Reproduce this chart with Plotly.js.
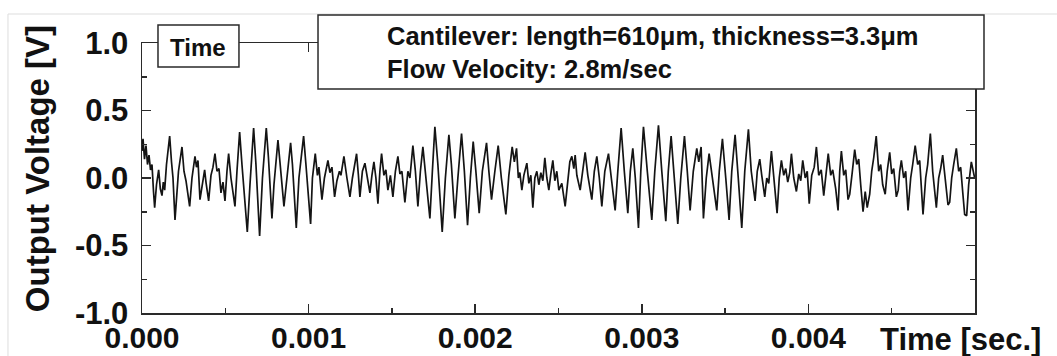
<!DOCTYPE html>
<html>
<head>
<meta charset="utf-8">
<script src="https://cdn.plot.ly/plotly-3.0.1.min.js"></script>
<style>
  html, body { margin: 0; padding: 0; background: #ffffff; }
  #chart { width: 1057px; height: 356px; }
</style>
</head>
<body>
<div id="chart"></div>
<script>
// Sample times in microseconds
const timeUs = [
  0, 6, 15, 24, 33, 42, 51, 60, 69, 76, 87, 100, 110, 120, 128, 136, 147, 166, 177, 186,
  198, 210, 219, 240, 252, 264, 286, 300, 318, 327, 336, 348, 363, 376, 384, 400, 414, 426, 438, 450,
  462, 474, 486, 498, 510, 520, 534, 558, 570, 586, 600, 612, 632, 648, 670, 684, 693, 706, 723, 746,
  759, 780, 792, 816, 828, 852, 870, 892, 903, 926, 942, 970, 984, 1012, 1023, 1040, 1053, 1062, 1080, 1095,
  1116, 1128, 1140, 1156, 1170, 1185, 1194, 1212, 1230, 1248, 1263, 1288, 1299, 1308, 1323, 1338, 1353, 1368, 1380, 1392,
  1404, 1416, 1428, 1438, 1452, 1464, 1476, 1491, 1506, 1521, 1536, 1548, 1560, 1578, 1596, 1608, 1626, 1641, 1656, 1671,
  1686, 1704, 1728, 1743, 1758, 1776, 1802, 1821, 1842, 1857, 1878, 1896, 1918, 1935, 1954, 1971, 1988, 2004, 2024, 2043,
  2068, 2082, 2098, 2118, 2138, 2157, 2184, 2202, 2222, 2235, 2248, 2259, 2268, 2280, 2292, 2310, 2322, 2334, 2346, 2358,
  2370, 2382, 2394, 2406, 2418, 2430, 2442, 2454, 2466, 2478, 2490, 2502, 2520, 2540, 2556, 2568, 2580, 2592, 2600, 2610,
  2630, 2643, 2660, 2676, 2700, 2715, 2730, 2745, 2760, 2778, 2800, 2817, 2840, 2856, 2876, 2895, 2916, 2931, 2946, 2961,
  2980, 2994, 3010, 3033, 3060, 3078, 3100, 3120, 3144, 3159, 3176, 3195, 3216, 3234, 3256, 3273, 3290, 3309, 3330, 3342,
  3356, 3370, 3387, 3404, 3423, 3450, 3465, 3484, 3504, 3524, 3540, 3560, 3579, 3600, 3618, 3640, 3657, 3680, 3693, 3708,
  3720, 3738, 3750, 3762, 3778, 3792, 3812, 3825, 3838, 3852, 3864, 3876, 3888, 3898, 3912, 3928, 3942, 3954, 3966, 3981,
  3993, 4005, 4020, 4035, 4048, 4062, 4077, 4092, 4104, 4119, 4134, 4146, 4164, 4178, 4188, 4198, 4212, 4224, 4238, 4248,
  4263, 4278, 4290, 4302, 4314, 4328, 4341, 4353, 4368, 4380, 4392, 4407, 4422, 4434, 4446, 4461, 4473, 4488, 4500, 4512,
  4528, 4539, 4548, 4558, 4572, 4584, 4598, 4614, 4626, 4641, 4656, 4668, 4688, 4704, 4716, 4732, 4746, 4768, 4782, 4794,
  4806, 4821, 4838, 4848, 4860, 4872, 4888, 4902, 4914, 4926, 4938, 4950, 4962, 4978, 4989, 4998
];

// Output voltage in volts
const voltage = [
  0.20, 0.29, 0.14, 0.24, 0.10, 0.17, 0.06, 0.10, -0.10, -0.22, -0.05, 0.06, -0.08, -0.13, -0.03, -0.09, 0.10, 0.31, 0.12, 0.00,
  -0.31, -0.05, 0.05, 0.23, 0.05, -0.02, -0.21, 0.00, 0.16, 0.08, 0.13, -0.16, -0.02, 0.06, -0.03, -0.17, 0.02, 0.08, 0.18, 0.05,
  0.07, -0.11, -0.03, -0.17, 0.05, 0.18, 0.00, -0.21, 0.05, 0.34, 0.10, -0.10, -0.40, -0.05, 0.37, 0.10, -0.10, -0.43, 0.00, 0.37,
  0.15, -0.30, -0.05, 0.28, 0.12, -0.21, 0.00, 0.26, 0.10, -0.37, 0.00, 0.31, 0.10, -0.34, 0.00, 0.18, 0.02, 0.08, -0.16, 0.00,
  0.13, 0.04, 0.08, -0.14, -0.02, 0.05, 0.02, 0.16, 0.00, -0.14, 0.00, 0.18, 0.02, -0.14, 0.05, 0.11, 0.00, -0.11, 0.02, 0.12,
  0.00, -0.19, 0.05, 0.18, 0.02, 0.06, -0.09, 0.02, -0.14, 0.05, 0.16, 0.03, 0.05, -0.18, 0.05, 0.00, 0.24, 0.05, -0.21, 0.05,
  0.23, 0.00, -0.30, 0.05, 0.38, 0.10, -0.40, 0.00, 0.32, 0.10, -0.30, 0.00, 0.33, 0.05, -0.35, 0.00, 0.27, 0.05, -0.26, 0.05,
  0.26, 0.05, -0.16, 0.05, 0.24, 0.00, -0.27, 0.02, 0.23, 0.12, 0.22, 0.00, 0.04, -0.09, 0.02, 0.11, -0.04, 0.02, -0.22, 0.00,
  0.05, -0.05, 0.04, -0.02, 0.15, 0.00, -0.09, 0.03, 0.13, -0.02, 0.05, -0.09, -0.04, -0.21, 0.00, 0.12, 0.16, 0.07, 0.17, 0.02,
  -0.09, 0.05, 0.19, 0.02, -0.16, 0.05, 0.16, 0.00, -0.21, 0.05, 0.18, 0.00, -0.24, 0.05, 0.37, 0.05, -0.26, 0.05, 0.22, 0.00,
  -0.37, 0.05, 0.38, 0.05, -0.31, 0.05, 0.39, 0.05, -0.32, 0.05, 0.31, 0.00, -0.34, 0.00, 0.31, 0.05, -0.24, 0.05, 0.22, 0.12,
  0.23, -0.30, 0.00, 0.18, 0.00, -0.24, 0.05, 0.29, 0.00, -0.31, 0.05, 0.32, 0.00, -0.37, 0.05, 0.36, 0.05, -0.17, 0.05, 0.14,
  0.02, -0.14, 0.00, -0.04, 0.20, 0.00, -0.26, 0.00, 0.13, 0.02, 0.07, -0.03, 0.04, 0.18, 0.00, -0.10, 0.03, -0.02, 0.13, 0.00,
  0.05, -0.19, 0.02, 0.08, 0.23, 0.02, 0.06, -0.13, 0.02, 0.18, 0.02, 0.06, -0.08, -0.24, 0.05, 0.20, 0.02, 0.06, -0.16, -0.12,
  0.04, 0.21, 0.10, 0.14, -0.05, -0.25, -0.10, -0.22, -0.12, 0.05, 0.15, 0.31, 0.05, 0.10, -0.05, -0.12, 0.05, 0.19, 0.03, 0.07,
  -0.14, -0.09, 0.05, 0.13, 0.00, 0.05, -0.24, 0.00, 0.10, 0.24, 0.10, 0.13, -0.27, 0.00, 0.10, 0.33, 0.05, -0.22, 0.00, 0.07,
  0.17, 0.00, -0.20, -0.18, 0.00, 0.10, 0.22, 0.05, 0.08, -0.10, -0.27, -0.28, -0.05, 0.12, 0.05, 0.00
];

const xTickVals = [0, 0.001, 0.002, 0.003, 0.004];
const xTickText = ['0.000', '0.001', '0.002', '0.003', '0.004'];
const yTickVals = [-1, -0.5, 0, 0.5, 1];
const yTickText = ['-1.0', '-0.5', '0.0', '0.5', '1.0'];

const FONT = 'Liberation Sans, Arial, Helvetica, sans-serif';
const AX = '#2a2a2a';

const trace = {
  type: 'scatter',
  mode: 'lines',
  x: timeUs.map(t => t * 1e-6),
  y: voltage,
  line: { color: '#141414', width: 1.7 },
  hoverinfo: 'skip'
};

const layout = {
  width: 1057,
  height: 356,
  margin: { l: 142, r: 82, t: 43, b: 43, pad: 0 },
  paper_bgcolor: '#ffffff',
  plot_bgcolor: '#ffffff',
  showlegend: false,
  font: { family: FONT, color: '#111111' },
  xaxis: {
    range: [0, 0.005],
    tickvals: xTickVals,
    ticktext: xTickText,
    ticks: 'inside',
    ticklen: 9,
    tickwidth: 1.5,
    tickcolor: AX,
    showline: true,
    linecolor: AX,
    linewidth: 1.5,
    mirror: 'ticks',
    showgrid: false,
    zeroline: false,
    tickfont: { family: FONT, size: 30, weight: 'bold', color: '#111111' },
    ticklabelstandoff: -3,
    minor: { dtick: 0.0005, ticks: 'inside', ticklen: 5, tickwidth: 1.5, tickcolor: AX, showgrid: false }
  },
  yaxis: {
    range: [-1, 1],
    tickvals: yTickVals,
    ticktext: yTickText,
    ticks: 'inside',
    ticklen: 9,
    tickwidth: 1.5,
    tickcolor: AX,
    showline: true,
    linecolor: AX,
    linewidth: 1.5,
    mirror: 'ticks',
    showgrid: false,
    zeroline: false,
    tickfont: { family: FONT, size: 31, weight: 'bold', color: '#111111' },
    ticklabelstandoff: 6,
    minor: { dtick: 0.25, ticks: 'inside', ticklen: 5, tickwidth: 1.5, tickcolor: AX, showgrid: false }
  },
  shapes: [
    // faint frame of the original figure
    { type: 'line', xref: 'paper', yref: 'paper', x0: -0.1609, x1: 1.0984, y0: 1.1074, y1: 1.1074,
      line: { color: '#dddddd', width: 1 } },
    { type: 'line', xref: 'paper', yref: 'paper', x0: -0.1609, x1: -0.1609, y0: 1.1074, y1: -0.159,
      line: { color: '#dddddd', width: 1 } },
    // "Time" legend box
    { type: 'rect', xref: 'paper', yref: 'paper', layer: 'above',
      x0: 0.0192, x1: 0.1164, y0: 0.9111, y1: 1.0667,
      fillcolor: '#ffffff', line: { color: AX, width: 1.5 } },
    // info box
    { type: 'rect', xref: 'paper', yref: 'paper', layer: 'above',
      x0: 0.2113, x1: 1.0108, y0: 0.8296, y1: 1.1037,
      fillcolor: '#ffffff', line: { color: AX, width: 1.5 } }
  ],
  annotations: [
    { xref: 'paper', yref: 'paper', x: 0.0678, y: 0.9815, xanchor: 'center', yanchor: 'middle',
      text: 'Time', showarrow: false,
      font: { family: FONT, size: 24, weight: 'bold', color: '#111111' } },
    { xref: 'paper', yref: 'paper', x: 0.2917, y: 0.9630, xanchor: 'left', yanchor: 'middle', align: 'left',
      text: 'Cantilever: length=610μm, thickness=3.3μm<br>Flow Velocity: 2.8m/sec', showarrow: false,
      font: { family: FONT, size: 25.5, weight: 'bold', color: '#111111' } },
    { xref: 'paper', yref: 'paper', x: -0.126, y: 0.533, xanchor: 'center', yanchor: 'middle',
      text: 'Output Voltage [V]', textangle: -90, showarrow: false,
      font: { family: FONT, size: 33, weight: 'bold', color: '#111111' } },
    { xref: 'paper', yref: 'paper', x: 0.883, y: -0.0963, xanchor: 'left', yanchor: 'middle',
      text: 'Time [sec.]', showarrow: false,
      font: { family: FONT, size: 31, weight: 'bold', color: '#111111' } }
  ]
};

Plotly.newPlot('chart', [trace], layout, { displayModeBar: false, staticPlot: true });
</script>
</body>
</html>
